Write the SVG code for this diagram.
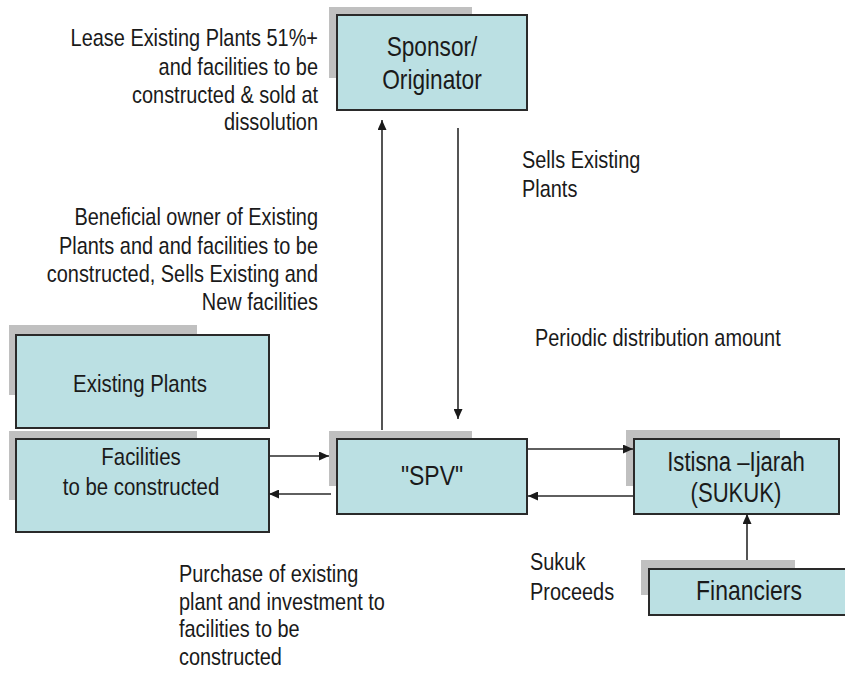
<svg xmlns="http://www.w3.org/2000/svg" width="845" height="675" viewBox="0 0 845 675">
<defs>
<style>
.shadow{fill:#c0c0c0;stroke:none}
.box{fill:#bbe0e3;stroke:#2a2a2a;stroke-width:2}
.bt{font-family:"Liberation Sans",Arial,sans-serif;font-size:28px;fill:#1a1a1a;text-anchor:middle}
.bs{font-family:"Liberation Sans",Arial,sans-serif;font-size:24px;fill:#1a1a1a;text-anchor:middle}
.lb{font-family:"Liberation Sans",Arial,sans-serif;font-size:24px;fill:#1a1a1a}
.edge{fill:none;stroke:#2a2a2a;stroke-width:1.6}
</style>
<marker id="ah" markerUnits="userSpaceOnUse" markerWidth="11" markerHeight="9" refX="10" refY="4.5" orient="auto">
<path d="M0,0 L10,4.5 L0,9 z" fill="#1a1a1a"/>
</marker>
</defs>
<rect width="845" height="675" fill="#ffffff"/>

<g id="sponsor">
<rect class="shadow" x="329" y="7" width="143" height="71"/>
<rect class="box" x="337" y="15" width="190" height="95"/>
<text class="bt" transform="translate(432,0) scale(0.81,1)"><tspan x="0" y="56">Sponsor/</tspan><tspan x="0" y="89">Originator</tspan></text>
</g>

<g id="existing-plants">
<rect class="shadow" x="9" y="325" width="188" height="70"/>
<rect class="box" x="16" y="335" width="253" height="93"/>
<text class="bs" transform="translate(140,392) scale(0.85,1)" x="0" y="0">Existing Plants</text>
</g>

<g id="facilities">
<rect class="shadow" x="9" y="431" width="188" height="69"/>
<rect class="box" x="16" y="439" width="253" height="93"/>
<text class="bs" transform="translate(141,0) scale(0.85,1)"><tspan x="0" y="465">Facilities</tspan><tspan x="0" y="495">to be constructed</tspan></text>
</g>

<g id="spv">
<rect class="shadow" x="329" y="431" width="143" height="55"/>
<rect class="box" x="337" y="439" width="190" height="75"/>
<text class="bt" transform="translate(432,485) scale(0.82,1)" x="0" y="0">"SPV"</text>
</g>

<g id="sukuk">
<rect class="shadow" x="626" y="430" width="154" height="56"/>
<rect class="box" x="634" y="439" width="205" height="75"/>
<text class="bt" transform="translate(736,0) scale(0.79,1)"><tspan x="0" y="471">Istisna –Ijarah</tspan><tspan x="0" y="502">(SUKUK)</tspan></text>
</g>

<g id="financiers">
<rect class="shadow" x="641" y="560" width="154" height="35"/>
<rect class="box" x="649" y="569" width="205" height="46"/>
<text class="bt" transform="translate(749,600) scale(0.82,1)" x="0" y="0">Financiers</text>
</g>

<g id="connectors">
<line class="edge" x1="382" y1="430" x2="382" y2="120" marker-end="url(#ah)"/>
<line class="edge" x1="458" y1="128" x2="458" y2="419" marker-end="url(#ah)"/>
<line class="edge" x1="269" y1="456" x2="329" y2="456" marker-end="url(#ah)"/>
<line class="edge" x1="331" y1="494" x2="269" y2="494" marker-end="url(#ah)"/>
<line class="edge" x1="527" y1="449" x2="633" y2="449" marker-end="url(#ah)"/>
<line class="edge" x1="634" y1="496" x2="528" y2="496" marker-end="url(#ah)"/>
<line class="edge" x1="747" y1="560" x2="747" y2="514" marker-end="url(#ah)"/>
</g>

<g id="labels">
<text class="lb" text-anchor="end" transform="translate(318,0) scale(0.83,1)"><tspan x="0" y="46">Lease Existing Plants 51%+</tspan><tspan x="0" y="75">and facilities to be</tspan><tspan x="0" y="103">constructed &amp; sold at</tspan><tspan x="0" y="130">dissolution</tspan></text>
<text class="lb" text-anchor="end" transform="translate(318,0) scale(0.83,1)"><tspan x="0" y="225">Beneficial owner of Existing</tspan><tspan x="0" y="254">Plants and and facilities to be</tspan><tspan x="0" y="282">constructed, Sells Existing and</tspan><tspan x="0" y="310">New facilities</tspan></text>
<text class="lb" transform="translate(522,0) scale(0.83,1)"><tspan x="0" y="168">Sells Existing</tspan><tspan x="0" y="197">Plants</tspan></text>
<text class="lb" transform="translate(535,346) scale(0.83,1)" x="0" y="0">Periodic distribution amount</text>
<text class="lb" transform="translate(179,0) scale(0.83,1)"><tspan x="0" y="582">Purchase of existing</tspan><tspan x="0" y="610">plant and investment to</tspan><tspan x="0" y="637">facilities to be</tspan><tspan x="0" y="665">constructed</tspan></text>
<text class="lb" transform="translate(530,0) scale(0.83,1)"><tspan x="0" y="570">Sukuk</tspan><tspan x="0" y="600">Proceeds</tspan></text>
</g>
</svg>
